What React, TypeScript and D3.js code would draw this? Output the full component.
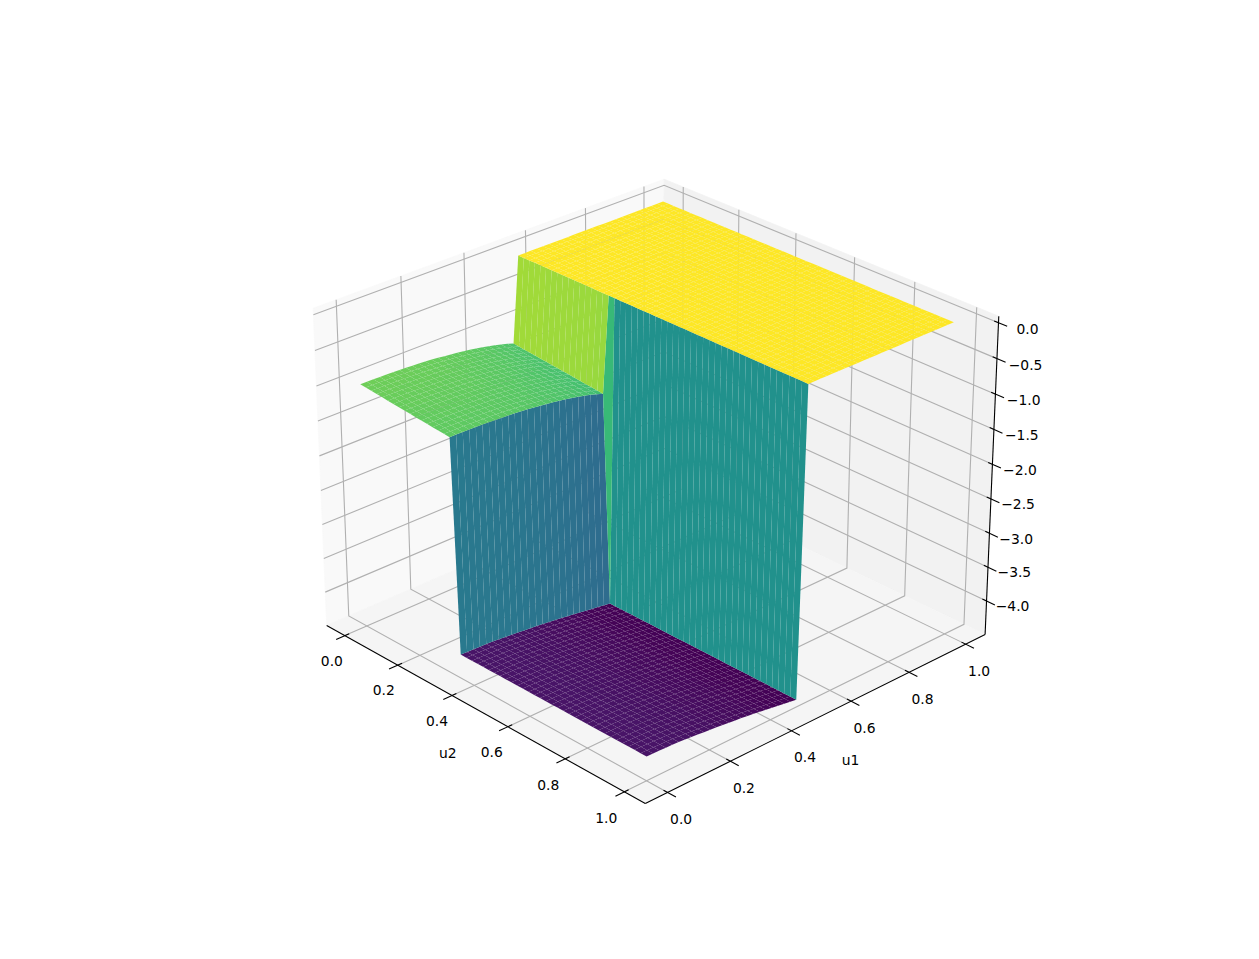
import React from 'react';
import * as d3 from 'd3';

const u1Ticks = [0, 0.2, 0.4, 0.6, 0.8, 1.0];
const u2Ticks = [0, 0.2, 0.4, 0.6, 0.8, 1.0];
const zTicks = [0, -0.5, -1, -1.5, -2, -2.5, -3, -3.5, -4];

// z, one value per grid row of u1 below the step
const greenProfile = [
  -0.97, -0.97, -0.971, -0.972, -0.975, -0.978, -0.982, -0.986, -0.991, -0.996, -1.002, -1.01,
  -1.02, -1.031, -1.042, -1.054, -1.067, -1.081, -1.097, -1.114, -1.133, -1.155, -1.178, -1.205,
  -1.234,
];
// the green shelf also leans a little along u2
const greenLean = [
  0, -0.008, -0.016, -0.023, -0.031, -0.039, -0.047, -0.055, -0.063, -0.07, -0.078, -0.086,
  -0.094, -0.102, -0.109, -0.117, -0.125,
];
const purpleProfile = [
  -4.17, -4.172, -4.175, -4.179, -4.183, -4.188, -4.196, -4.205, -4.214, -4.223, -4.232, -4.242,
  -4.252, -4.263, -4.274, -4.285, -4.298, -4.311, -4.325, -4.34, -4.355, -4.368, -4.381, -4.395,
  -4.41,
];
const topLevel = 0;

const gridSize = 50;
const gridRange = [0.004, 0.996];
const u1StepIndex = greenProfile.length;
const u2StepIndex = greenLean.length;

const width = 1259;
const height = 959;
const elev = (27 * Math.PI) / 180;
const azim = (-43.4 * Math.PI) / 180;
const dist = 10;
const boxSize = [1.1905, 1.1905, 0.8929];
const xLim = [-0.07, 1.07];
const yLim = [-0.07, 1.07];
const zLim = [-4.5, 0.09];

const sx = d3.scaleLinear().domain(xLim).range([0, boxSize[0]]);
const sy = d3.scaleLinear().domain(yLim).range([0, boxSize[1]]);
const sz = d3.scaleLinear().domain(zLim).range([0, boxSize[2]]);

const axSize = 0.77 * height;
const axCx = 0.5125 * width;
const axCy = height * (1 - 0.495);
const viewX = d3.scaleLinear().domain([-0.095, 0.09]).range([axCx - axSize / 2, axCx + axSize / 2]);
const viewY = d3.scaleLinear().domain([-0.095, 0.09]).range([axCy + axSize / 2, axCy - axSize / 2]);

const R = boxSize.map((b) => b / 2);
const n = [Math.cos(elev) * Math.cos(azim), Math.cos(elev) * Math.sin(azim), Math.sin(elev)];
const E = R.map((r, i) => r + dist * n[i]);
const cross = (a: number[], b: number[]) => [
  a[1] * b[2] - a[2] * b[1],
  a[2] * b[0] - a[0] * b[2],
  a[0] * b[1] - a[1] * b[0],
];
const dot = (a: number[], b: number[]) => a[0] * b[0] + a[1] * b[1] + a[2] * b[2];
const uRaw = cross([0, 0, 1], n);
const uLen = Math.hypot(uRaw[0], uRaw[1], uRaw[2]);
const uVec = uRaw.map((c) => c / uLen);
const vVec = cross(n, uVec);

// same camera as mplot3d
const project = (x: number, y: number, z: number) => {
  const p = [sx(x) - E[0], sy(y) - E[1], sz(z) - E[2]];
  const w = -dot(p, n);
  return { x: viewX(dot(p, uVec) / w), y: viewY(dot(p, vVec) / w), depth: w };
};

const pt = (x: number, y: number, z: number): [number, number] => {
  const p = project(x, y, z);
  return [p.x, p.y];
};

const path = d3.line();

const gridScale = d3.scaleLinear().domain([0, gridSize - 1]).range(gridRange);
const gridAxis = d3.range(gridSize).map((i) => gridScale(i));
const zGrid = gridAxis.map((_, i) =>
  gridAxis.map((__, j) => {
    if (i >= u1StepIndex) return topLevel;
    return j < u2StepIndex ? greenProfile[i] + greenLean[j] : purpleProfile[i];
  }),
);

const allZ = zGrid.flat();
const color = d3
  .scaleSequential(d3.interpolateViridis)
  .domain([d3.min(allZ) as number, d3.max(allZ) as number]);

type Facet = { d: string; fill: string; depth: number };
const facets: Facet[] = [];
for (let i = 0; i < gridSize - 1; i++) {
  for (let j = 0; j < gridSize - 1; j++) {
    // x axis carries u2, y axis carries u1
    const corners = [
      [gridAxis[j], gridAxis[i], zGrid[i][j]],
      [gridAxis[j + 1], gridAxis[i], zGrid[i][j + 1]],
      [gridAxis[j + 1], gridAxis[i + 1], zGrid[i + 1][j + 1]],
      [gridAxis[j], gridAxis[i + 1], zGrid[i + 1][j]],
    ];
    const screen = corners.map((c) => project(c[0], c[1], c[2]));
    facets.push({
      d: path(screen.map((s) => [s.x, s.y] as [number, number])) + 'Z',
      fill: color(d3.mean(corners, (c) => c[2]) as number),
      depth: d3.mean(screen, (s) => s.depth) as number,
    });
  }
}
facets.sort((a, b) => b.depth - a.depth);

const [x0, x1] = xLim;
const [y0, y1] = yLim;
const [z0, z1] = zLim;

const panes = [
  { fill: '#f9f9f9', pts: [pt(x0, y0, z0), pt(x0, y1, z0), pt(x0, y1, z1), pt(x0, y0, z1)] },
  { fill: '#f2f2f2', pts: [pt(x0, y1, z0), pt(x1, y1, z0), pt(x1, y1, z1), pt(x0, y1, z1)] },
  { fill: '#f5f5f5', pts: [pt(x0, y0, z0), pt(x1, y0, z0), pt(x1, y1, z0), pt(x0, y1, z0)] },
];

const gridLines = [
  ...u2Ticks.map((t) => [pt(t, y0, z0), pt(t, y1, z0), pt(t, y1, z1)]),
  ...u1Ticks.map((t) => [pt(x1, t, z0), pt(x0, t, z0), pt(x0, t, z1)]),
  ...zTicks.map((t) => [pt(x0, y0, t), pt(x0, y1, t), pt(x1, y1, t)]),
];

const xSpan = x1 - x0;
const ySpan = y1 - y0;
const tickOut = 0.024;
const tickIn = 0.012;

const fmt = (t: number) => t.toFixed(1).replace('-', '\u2212');

const App = () => {
  const labelStyle = { fontFamily: 'DejaVu Sans', fontSize: 13.89, fill: '#000' };
  return (
    <svg
      width={width}
      height={height}
      style={{ position: 'absolute', left: 0, top: 0, background: '#fff' }}
    >
      {panes.map((p, i) => (
        <path key={i} d={path(p.pts) + 'Z'} fill={p.fill} stroke={p.fill} strokeWidth={0.8} />
      ))}
      {gridLines.map((g, i) => (
        <path key={i} d={path(g) as string} fill="none" stroke="#b0b0b0" strokeWidth={1.1} />
      ))}
      <path d={path([pt(x0, y0, z0), pt(x1, y0, z0)]) as string} stroke="#000" strokeWidth={1.1} />
      <path d={path([pt(x1, y0, z0), pt(x1, y1, z0)]) as string} stroke="#000" strokeWidth={1.1} />
      <path d={path([pt(x1, y1, z0), pt(x1, y1, z1)]) as string} stroke="#000" strokeWidth={1.1} />
      {u2Ticks.map((t) => {
        const a = pt(t, y0 - tickOut * ySpan, z0);
        const b = pt(t, y0 + tickIn * ySpan, z0);
        const c = pt(t, y0, z0);
        return (
          <g key={t}>
            <path d={path([a, b]) as string} stroke="#000" strokeWidth={1.1} />
            <text
              x={c[0] - 13 - 5 * t}
              y={c[1] + 25 + t}
              dy="0.36em"
              textAnchor="middle"
              style={labelStyle}
            >
              {fmt(t)}
            </text>
          </g>
        );
      })}
      {u1Ticks.map((t) => {
        const a = pt(x1 - tickIn * xSpan, t, z0);
        const b = pt(x1 + tickOut * xSpan, t, z0);
        const c = pt(x1, t, z0);
        return (
          <g key={t}>
            <path d={path([a, b]) as string} stroke="#000" strokeWidth={1.1} />
            <text x={c[0] + 13.5} y={c[1] + 26.5} dy="0.36em" textAnchor="middle" style={labelStyle}>
              {fmt(t)}
            </text>
          </g>
        );
      })}
      {zTicks.map((t) => {
        const a = pt(x1 - tickIn * xSpan, y1, t);
        const b = pt(x1 + tickOut * xSpan, y1, t);
        const c = pt(x1, y1, t);
        return (
          <g key={t}>
            <path d={path([a, b]) as string} stroke="#000" strokeWidth={1.1} />
            <text
              x={c[0] + 29 + 0.75 * t}
              y={c[1] + 6 + 0.25 * t}
              dy="0.36em"
              textAnchor="middle"
              style={labelStyle}
            >
              {fmt(t)}
            </text>
          </g>
        );
      })}
      {(() => {
        const m = pt((x0 + x1) / 2, y0, z0);
        return (
          <text x={m[0] - 32} y={m[1] + 42} dy="0.36em" textAnchor="middle" style={labelStyle}>
            u2
          </text>
        );
      })()}
      {(() => {
        const m = pt(x1, (y0 + y1) / 2, z0);
        return (
          <text x={m[0] + 29} y={m[1] + 44} dy="0.36em" textAnchor="middle" style={labelStyle}>
            u1
          </text>
        );
      })()}
      {facets.map((f, i) => (
        <path key={i} d={f.d} fill={f.fill} />
      ))}
    </svg>
  );
};

export default App;
